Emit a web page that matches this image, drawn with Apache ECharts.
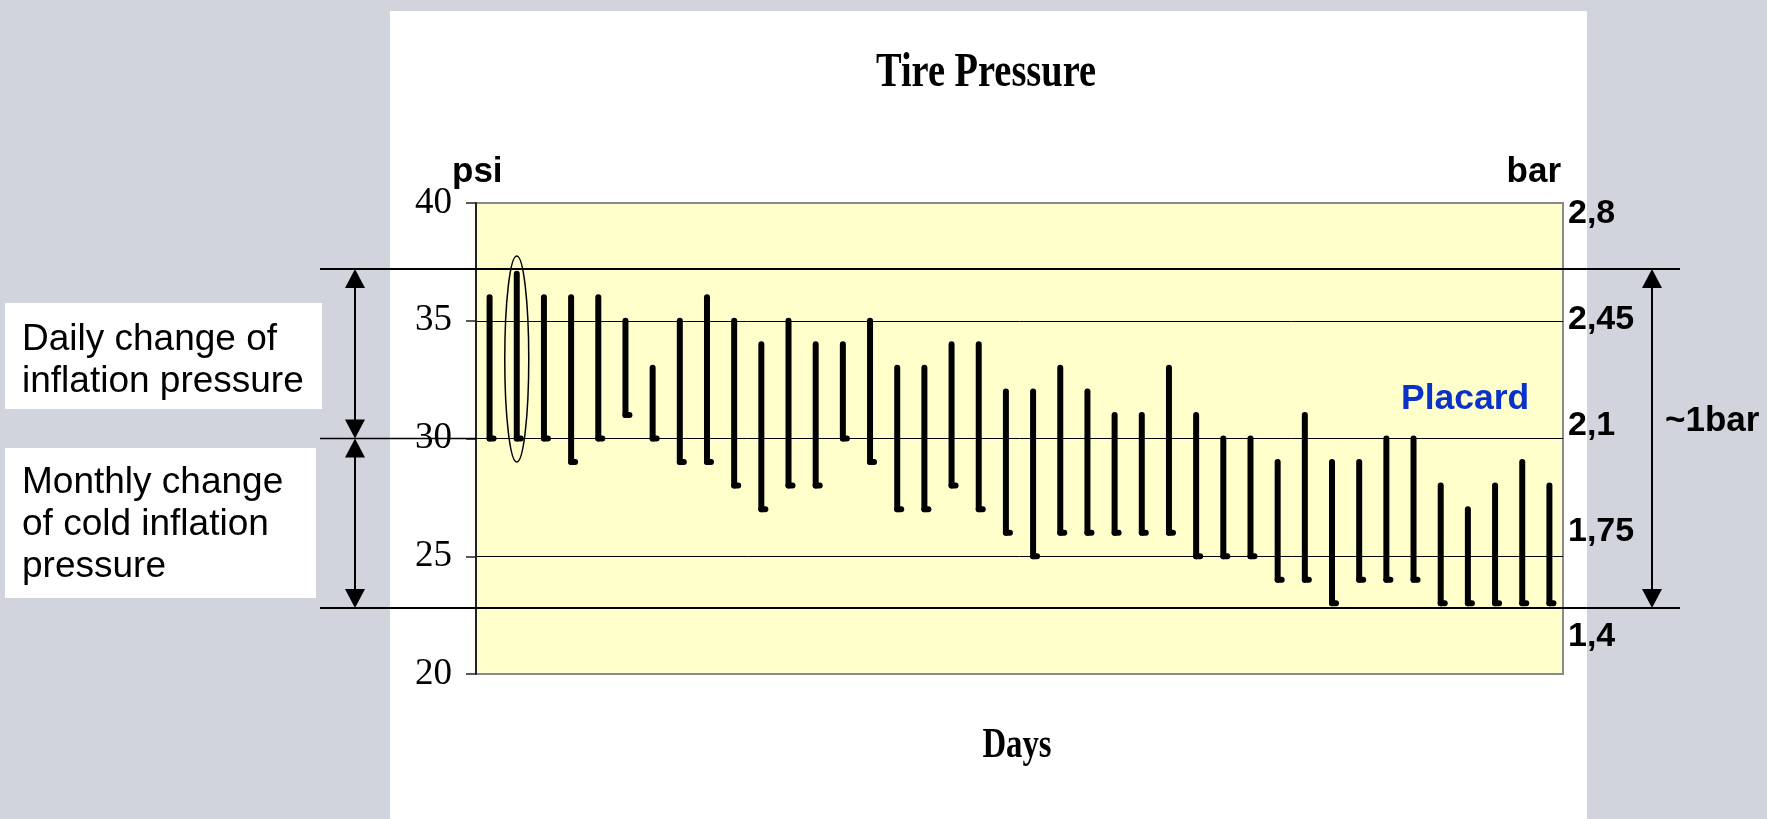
<!DOCTYPE html>
<html>
<head>
<meta charset="utf-8">
<script src="https://cdn.jsdelivr.net/npm/echarts@6/dist/echarts.min.js"></script>
<style>
  html, body { margin: 0; padding: 0; background: #d1d4dc; }
  #chart { width: 1767px; height: 819px; }
</style>
</head>
<body>
<div id="chart"></div>
<script>
// Daily tire pressure readings (psi): hot reading (top) and cold reading (bottom)
const days = ['1','2','3','4','5','6','7','8','9','10','11','12','13','14','15','16','17','18','19','20',
              '21','22','23','24','25','26','27','28','29','30','31','32','33','34','35','36','37','38','39','40'];
const dailyHigh = [36, 37, 36, 36, 36, 35, 33, 35, 36, 35, 34, 35, 34, 34, 35, 33, 33, 34, 34, 32,
                   32, 33, 32, 31, 31, 33, 31, 30, 30, 29, 31, 29, 29, 30, 30, 28, 27, 28, 29, 28];
const dailyLow  = [30, 30, 30, 29, 30, 31, 30, 29, 29, 28, 27, 28, 28, 30, 29, 27, 27, 28, 27, 26,
                   25, 26, 26, 26, 26, 26, 25, 25, 25, 24, 24, 23, 24, 24, 24, 23, 23, 23, 23, 23];

// Axis ticks
const psiTicks = [20, 25, 30, 35, 40];
const barTicks = [1.4, 1.75, 2.1, 2.45, 2.8];

// Annotations (psi)
const circledDay = 1;             // index of the highlighted day
const circledRange = [29.0, 37.75];
const placardLevel = 30;
const bracketTop = 37.2;          // upper limit of the ~1 bar band
const bracketBottom = 22.8;       // lower limit of the ~1 bar band

const chart = echarts.init(document.getElementById('chart'), null, { renderer: 'canvas' });

const boldSans = '"Liberation Sans", Arial, sans-serif';
const serif = '"Liberation Serif", "Times New Roman", serif';

chart.setOption({
  animation: false,
  backgroundColor: '#d1d4dc',
  grid: {
    left: 476, top: 203, width: 1087, height: 471,
    show: true, backgroundColor: '#ffffcc', borderColor: '#8a8a8a', borderWidth: 2
  },
  xAxis: {
    type: 'category', data: days,
    axisLine: { show: false }, axisTick: { show: false }, axisLabel: { show: false },
    splitLine: { show: false }
  },
  yAxis: [
    {
      type: 'value', min: psiTicks[0], max: psiTicks[psiTicks.length - 1], interval: 5,
      axisLine: { show: true, lineStyle: { color: '#222', width: 2 } },
      axisTick: { show: true, length: 10, lineStyle: { color: '#222', width: 1.5 } },
      axisLabel: { margin: 24, fontFamily: serif, fontSize: 37, color: '#000' },
      splitLine: { show: true, showMinLine: false, showMaxLine: false, lineStyle: { color: '#000', width: 1 } }
    },
    {
      type: 'value', position: 'right', min: 1.2775, max: 2.8364,
      axisLine: { show: false }, axisTick: { show: false },
      splitLine: { show: false },
      axisLabel: {
        customValues: barTicks, margin: 5,
        fontFamily: boldSans, fontWeight: 'bold', fontSize: 34, color: '#000',
        formatter: v => String(Math.round(v * 100) / 100).replace('.', ',')
      }
    }
  ],
  series: [{
    type: 'custom',
    clip: false,
    encode: { x: 0, y: [1, 2] },
    data: dailyHigh.map((h, i) => [i, h, dailyLow[i]]),
    renderItem(params, api) {
      const i = api.value(0);
      const top = api.coord([i, api.value(1)]);
      const bot = api.coord([i, api.value(2)]);
      const children = [
        { type: 'line', shape: { x1: top[0], y1: top[1], x2: bot[0], y2: bot[1] },
          style: { stroke: '#000', lineWidth: 6, lineCap: 'round' } },
        { type: 'line', shape: { x1: bot[0], y1: bot[1], x2: bot[0] + 4, y2: bot[1] },
          style: { stroke: '#000', lineWidth: 6, lineCap: 'round' } }
      ];
      if (i === circledDay) {
        const a = api.coord([i, circledRange[1]]);
        const b = api.coord([i, circledRange[0]]);
        children.push({ type: 'ellipse',
          shape: { cx: a[0], cy: (a[1] + b[1]) / 2, rx: 12, ry: (b[1] - a[1]) / 2 },
          style: { fill: 'none', stroke: '#000', lineWidth: 1.5 } });
      }
      return { type: 'group', children };
    }
  }]
});

// Overlay: panel, labels, brackets and arrows positioned from the psi axis
const yPx = v => chart.convertToPixel({ yAxisIndex: 0 }, v);
const yTop = yPx(bracketTop), yMid = yPx(placardLevel), yBot = yPx(bracketBottom);

function arrow(x, y1, y2) {
  const head = 19, half = 10;
  return [
    { type: 'line', shape: { x1: x, y1: y1 + head - 2, x2: x, y2: y2 - head + 2 },
      style: { stroke: '#000', lineWidth: 2 } },
    { type: 'polygon', shape: { points: [[x, y1], [x - half, y1 + head], [x + half, y1 + head]] },
      style: { fill: '#000' } },
    { type: 'polygon', shape: { points: [[x, y2], [x - half, y2 - head], [x + half, y2 - head]] },
      style: { fill: '#000' } }
  ];
}

const textSans = '"Liberation Sans", Arial, sans-serif';

chart.setOption({
  graphic: [
    // white slide panel behind the chart
    { type: 'rect', z: -10, silent: true, shape: { x: 390, y: 11, width: 1197, height: 808 },
      style: { fill: '#ffffff' } },
    // title and x-axis caption (condensed serif)
    { type: 'text', x: 986, y: 74, scaleX: 0.8, z: 10,
      style: { text: 'Tire Pressure', x: 0, y: 0, align: 'center', verticalAlign: 'middle',
               font: 'bold 48px ' + serif, fill: '#000' } },
    { type: 'text', x: 1017, y: 746, scaleX: 0.78, z: 10,
      style: { text: 'Days', x: 0, y: 0, align: 'center', verticalAlign: 'middle',
               font: 'bold 42px ' + serif, fill: '#000' } },
    // unit labels
    { type: 'text', z: 10, style: { text: 'psi', x: 452, y: 172, align: 'left', verticalAlign: 'middle',
               font: 'bold 35px ' + boldSans, fill: '#000' } },
    { type: 'text', z: 10, style: { text: 'bar', x: 1561, y: 172, align: 'right', verticalAlign: 'middle',
               font: 'bold 35px ' + boldSans, fill: '#000' } },
    { type: 'text', z: 10, style: { text: 'Placard', x: 1401, y: 399, align: 'left', verticalAlign: 'middle',
               font: 'bold 35.5px ' + boldSans, fill: '#0a32c8' } },
    { type: 'text', z: 10, style: { text: '~1bar', x: 1665, y: 421, align: 'left', verticalAlign: 'middle',
               font: 'bold 35px ' + boldSans, fill: '#000' } },
    // bracket lines
    { type: 'line', z: 5, shape: { x1: 320, y1: yTop, x2: 1680, y2: yTop }, style: { stroke: '#000', lineWidth: 2 } },
    { type: 'line', z: 5, shape: { x1: 320, y1: yBot, x2: 1680, y2: yBot }, style: { stroke: '#000', lineWidth: 2 } },
    { type: 'line', z: 5, shape: { x1: 320, y1: yMid, x2: 477, y2: yMid }, style: { stroke: '#000', lineWidth: 1.5 } },
    { type: 'group', z: 5, children: arrow(355, yTop, yMid) },
    { type: 'group', z: 5, children: arrow(355, yMid, yBot) },
    { type: 'group', z: 5, children: arrow(1652, yTop, yBot) },
    // explanation boxes
    { type: 'rect', z: 6, shape: { x: 5, y: 303, width: 317, height: 106 }, style: { fill: '#fff' } },
    { type: 'text', z: 7, style: { text: 'Daily change of\ninflation pressure', x: 22, y: 361,
               align: 'left', verticalAlign: 'middle', lineHeight: 42,
               font: '37px ' + textSans, fill: '#000' } },
    { type: 'rect', z: 6, shape: { x: 5, y: 448, width: 311, height: 150 }, style: { fill: '#fff' } },
    { type: 'text', z: 7, style: { text: 'Monthly change\nof cold inflation\npressure', x: 22, y: 525,
               align: 'left', verticalAlign: 'middle', lineHeight: 42,
               font: '37px ' + textSans, fill: '#000' } }
  ]
});
</script>
</body>
</html>
